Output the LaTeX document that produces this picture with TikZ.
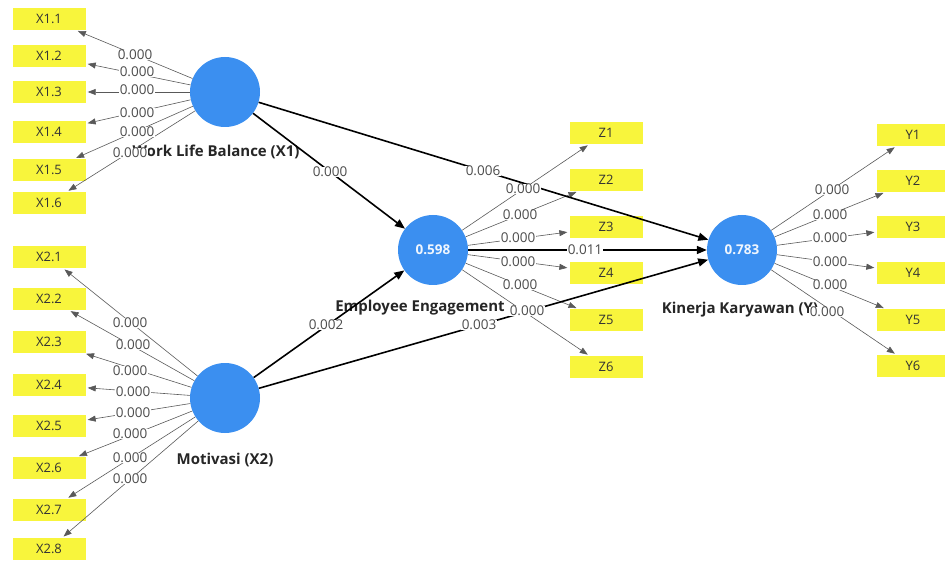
\documentclass[tikz,border=0pt]{standalone}
\usepackage{fontspec}
\setmainfont{Open Sans}
\usetikzlibrary{arrows.meta}
\definecolor{lvblue}{RGB}{59,143,240}
\definecolor{mvyellow}{RGB}{248,245,60}
\begin{document}
\begin{tikzpicture}[x=1pt,y=-1pt,
  latent/.style={circle,fill=lvblue,minimum size=70pt,inner sep=0pt,text=white!92!lvblue,font=\bfseries\fontsize{13.5}{15}\selectfont},
  indicator/.style={fill=mvyellow,minimum width=73pt,minimum height=22pt,inner sep=0pt,text=black!80,font=\fontsize{13}{15}\selectfont},
  lvname/.style={text=black!85,font=\bfseries\fontsize{15}{17}\selectfont},
  coef/.style={fill=white,inner sep=0.5pt,text=black!70,font=\fontsize{13.5}{15}\selectfont},
  outer/.style={draw=black!65,line width=0.6pt,-{Triangle[length=8pt,width=6pt]},shorten >=2pt},
  inner/.style={draw=black,line width=1.6pt,-{Triangle[length=10pt,width=8pt]}}]
  \useasboundingbox (0,0) rectangle (945,561);
  % constructs
  \node[latent](wlb) at (225,92) {};
  \node[latent](mot) at (225,398) {};
  \node[latent](ee) at (433,250) {0.598};
  \node[latent](kk) at (742,250) {0.783};
  \node[lvname](wlbname) at (216,152) {Work Life Balance (X1)};
  \node[lvname](motname) at (225,460) {Motivasi (X2)};
  \node[lvname](eename) at (420,308) {Employee Engagement};
  \node[lvname](kkname) at (740,310) {Kinerja Karyawan (Y)};
  % indicators
  \foreach \i/\y in {1/19,2/56,3/92,4/132,5/170,6/203}
    \node[indicator](x1\i) at (49,\y) {X1.\i};
  \foreach \i/\y in {1/257,2/299,3/342,4/385,5/426,6/468,7/510,8/549}
    \node[indicator](x2\i) at (49,\y) {X2.\i};
  \foreach \i/\y in {1/133,2/180,3/227,4/273,5/320,6/367}
    \node[indicator](z\i) at (606,\y) {Z\i};
  \foreach \i/\y in {1/135,2/181,3/227,4/273,5/320,6/366}
    \node[indicator](y\i) at (913,\y) {Y\i};
  % outer loadings
  \foreach \i in {1,...,6} \draw[outer](wlb)--(x1\i);
  \foreach \i in {1,...,8} \draw[outer](mot)--(x2\i);
  \foreach \i in {1,...,6} \draw[outer](ee)--(z\i);
  \foreach \i in {1,...,6} \draw[outer](kk)--(y\i);
  % paths
  \draw[inner](wlb)--(ee);
  \draw[inner](wlb)--(kk);
  \draw[inner](mot)--(ee);
  \draw[inner](mot)--(kk);
  \draw[inner](ee)--(kk);
  % p values
  \foreach \i/\x/\y in {1/135/55,2/137/72,3/137/90,4/137/113,5/137/132,6/130/153}
    \node[coef](px1\i) at (\x,\y) {0.000};
  \foreach \i/\x/\y in {1/130/323,2/133/345,3/130/371,4/133/392,5/133/413,6/130/434,7/130/458,8/130/479}
    \node[coef](px2\i) at (\x,\y) {0.000};
  \foreach \i/\x/\y in {1/523/189,2/520/215,3/518/238,4/518/262,5/520/285,6/527/311}
    \node[coef](pz\i) at (\x,\y) {0.000};
  \foreach \i/\x/\y in {1/832/190,2/830/215,3/830/238,4/830/262,5/830/285,6/827/312}
    \node[coef](py\i) at (\x,\y) {0.000};
  \node[coef](pwe) at (330,172) {0.000};
  \node[coef](pwk) at (483,171) {0.006};
  \node[coef](pme) at (326,325) {0.002};
  \node[coef](pmk) at (479,325) {0.003};
  \node[coef](pek) at (585,250) {0.011};
\end{tikzpicture}
\end{document}
